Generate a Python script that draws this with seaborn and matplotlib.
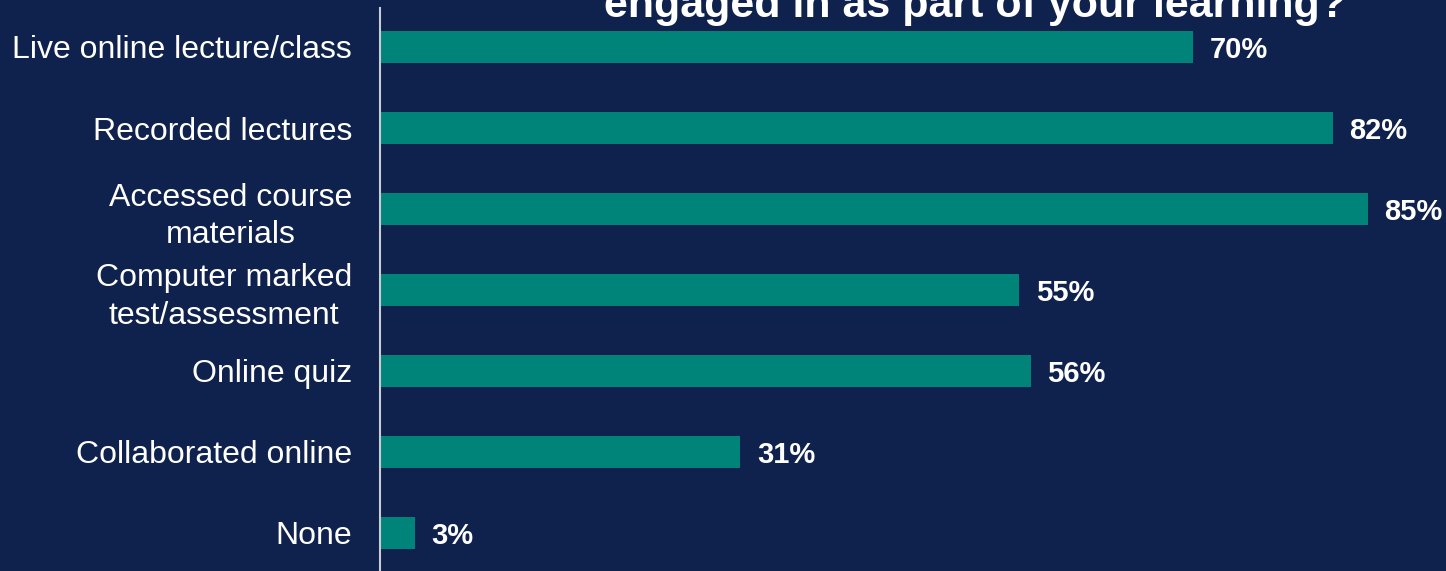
import matplotlib
matplotlib.use("Agg")
import matplotlib.pyplot as plt
import seaborn as sns
import pandas as pd

activities = [
    "Live online lecture/class",
    "Recorded lectures",
    "Accessed course\nmaterials",
    "Computer marked\ntest/assessment",
    "Online quiz",
    "Collaborated online",
    "None",
]
shares = [70, 82, 85, 55, 56, 31, 3]
value_labels = ["70%", "82%", "85%", "55%", "56%", "31%", "3%"]
title_line = "engaged in as part of your learning?"

BG = "#0F214D"
BAR = "#00847A"

sns.set_theme(style="white")
plt.rcParams["font.family"] = ["Liberation Sans", "DejaVu Sans"]

W, H = 1446, 571
fig = plt.figure(figsize=(W / 100, H / 100), dpi=100, facecolor=BG)
ax = fig.add_axes([380 / W, 0, 1 - 380 / W, 563 / H])
ax.set_facecolor(BG)

df = pd.DataFrame({"activity": activities, "share": shares})
sns.barplot(data=df, y="activity", x="share", orient="h", color=BAR,
            saturation=1, width=0.385, linewidth=0, edgecolor=BAR, ax=ax)

ax.set_xlim(0, 1066 / 11.62)
ax.set_ylim(6 + 38 / 81, -39 / 81)
ax.set_xlabel("")
ax.set_ylabel("")
ax.set_xticks([])
for s in ["top", "right", "bottom"]:
    ax.spines[s].set_visible(False)
ax.spines["left"].set_color("#C8CCD6")
ax.spines["left"].set_linewidth(1.5)

ax.tick_params(axis="y", length=0, pad=20, labelsize=23, labelcolor="white")
for t in ax.get_yticklabels():
    t.set_multialignment("center")
    t.set_linespacing(1.32)

for i, (v, lab) in enumerate(zip(shares, value_labels)):
    ax.annotate(lab, xy=(v, i), xytext=(12, -2.5), textcoords="offset points",
                ha="left", va="center", color="white", fontsize=21,
                fontweight="bold")

fig.text(975 / W, 1 - 17 / H, title_line, ha="center", va="baseline",
         color="white", fontsize=31, fontweight="bold")

fig.savefig("out.png", dpi=100, facecolor=BG)
